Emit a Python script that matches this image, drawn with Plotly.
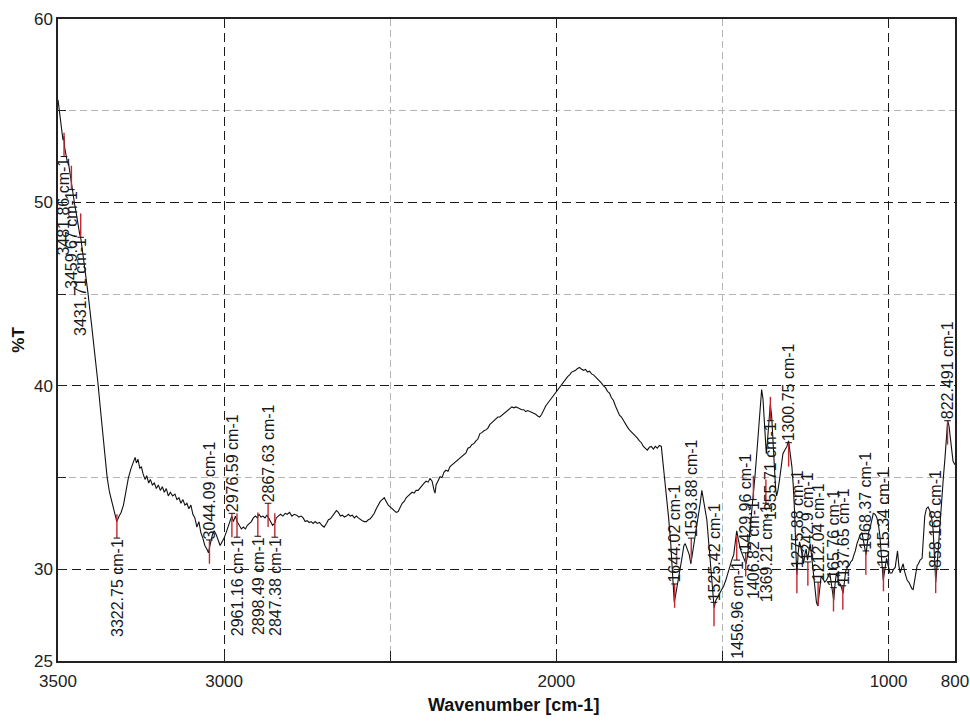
import plotly.graph_objects as go

# FTIR transmission spectrum (wavenumber in cm-1, transmittance in %)
wavenumber = [
    3500, 3497, 3493, 3489, 3485, 3482, 3480, 3476, 3472, 3468, 3465, 3460, 3455, 3450, 3445,
    3440, 3435, 3431, 3425, 3420, 3410, 3400, 3390, 3380, 3370, 3360, 3352, 3345, 3338, 3330,
    3323, 3316, 3310, 3303, 3295, 3288, 3280, 3274, 3268, 3264, 3259, 3254, 3249, 3244, 3238,
    3233, 3227, 3222, 3216, 3210, 3204, 3198, 3192, 3186, 3180, 3174, 3168, 3162, 3155, 3148,
    3142, 3136, 3130, 3124, 3118, 3112, 3106, 3100, 3094, 3088, 3082, 3076, 3070, 3064, 3058,
    3052, 3047, 3044, 3040, 3035, 3030, 3024, 3018, 3012, 3006, 3000, 2994, 2988, 2982, 2977,
    2972, 2966, 2961, 2955, 2948, 2942, 2936, 2930, 2924, 2918, 2912, 2906, 2900, 2895, 2889,
    2883, 2877, 2871, 2866, 2860, 2854, 2848, 2843, 2837, 2830, 2823, 2816, 2810, 2803, 2796,
    2789, 2782, 2775, 2768, 2762, 2756, 2750, 2744, 2738, 2732, 2726, 2720, 2713, 2706, 2699,
    2692, 2686, 2680, 2674, 2668, 2662, 2656, 2650, 2644, 2638, 2632, 2626, 2620, 2614, 2608,
    2602, 2596, 2590, 2584, 2578, 2572, 2566, 2560, 2554, 2548, 2542, 2536, 2530, 2524, 2518,
    2512, 2506, 2500, 2494, 2488, 2482, 2476, 2470, 2464, 2458, 2452, 2446, 2440, 2434, 2428,
    2422, 2416, 2410, 2404, 2398, 2392, 2386, 2380, 2374, 2368, 2365, 2362, 2356, 2350, 2344,
    2338, 2332, 2326, 2320, 2314, 2308, 2302, 2296, 2290, 2284, 2278, 2272, 2266, 2260, 2254,
    2248, 2242, 2236, 2230, 2224, 2218, 2212, 2206, 2200, 2194, 2188, 2182, 2176, 2170, 2164,
    2158, 2152, 2146, 2140, 2134, 2128, 2122, 2116, 2110, 2104, 2098, 2092, 2086, 2080, 2074,
    2068, 2062, 2056, 2050, 2044, 2038, 2032, 2026, 2020, 2014, 2008, 2002, 1996, 1990, 1984,
    1978, 1972, 1966, 1960, 1954, 1948, 1942, 1936, 1930, 1924, 1918, 1912, 1906, 1900, 1894,
    1888, 1882, 1876, 1870, 1864, 1858, 1852, 1846, 1840, 1834, 1828, 1822, 1816, 1810, 1804,
    1798, 1792, 1786, 1780, 1774, 1768, 1762, 1756, 1750, 1744, 1738, 1732, 1726, 1720, 1714,
    1708, 1702, 1696, 1690, 1684, 1680, 1676, 1672, 1667, 1662, 1656, 1650, 1645, 1640, 1634,
    1628, 1622, 1616, 1612, 1606, 1600, 1595, 1590, 1584, 1578, 1572, 1567, 1562, 1557, 1552,
    1547, 1542, 1537, 1532, 1528, 1525, 1520, 1514, 1508, 1502, 1496, 1490, 1484, 1478, 1472,
    1466, 1461, 1457, 1452, 1446, 1440, 1434, 1429, 1424, 1419, 1414, 1410, 1406, 1402, 1398,
    1394, 1390, 1386, 1382, 1378, 1374, 1371, 1368, 1364, 1360, 1356, 1352, 1348, 1344, 1340,
    1337, 1333, 1328, 1323, 1318, 1312, 1306, 1301, 1296, 1291, 1287, 1283, 1279, 1276, 1272,
    1268, 1264, 1260, 1256, 1252, 1248, 1244, 1240, 1236, 1232, 1227, 1222, 1217, 1213, 1208,
    1203, 1198, 1192, 1187, 1182, 1177, 1172, 1168, 1165, 1161, 1157, 1153, 1149, 1145, 1141,
    1137, 1133, 1129, 1124, 1119, 1114, 1109, 1104, 1100, 1095, 1090, 1085, 1080, 1076, 1072,
    1068, 1064, 1060, 1055, 1050, 1046, 1041, 1036, 1031, 1026, 1021, 1016, 1011, 1006, 1001,
    996, 990, 985, 980, 976, 973, 969, 965, 960, 956, 952, 948, 944, 939, 935,
    930, 926, 922, 918, 914, 910, 905, 899, 895, 891, 886, 881, 876, 871, 866,
    862, 858, 854, 850, 845, 840, 835, 830, 826, 822, 818, 814, 810, 806, 803,
    800,
]
transmittance = [
    55.6, 55.1, 54.6, 54.1, 53.4, 53.6, 53.0, 52.6, 52.2, 52.1, 51.7, 51.2, 50.5, 49.9, 49.4,
    48.8, 48.3, 48.0, 47.2, 46.4, 45.1, 43.5, 42.0, 40.2, 38.3, 36.3, 35.0, 34.2, 33.7, 33.1,
    32.6, 32.9, 33.1, 33.5, 34.3, 35.0, 35.5, 35.8, 36.1, 35.8, 36.0, 35.5, 35.6, 35.2, 34.9,
    35.1, 34.7, 34.9, 34.6, 34.7, 34.4, 34.6, 34.3, 34.5, 34.2, 34.4, 34.0, 34.2, 34.0, 34.1,
    33.8, 33.9, 33.6, 33.8, 33.5, 33.6, 33.3, 33.5, 33.0, 32.8, 32.3, 32.6, 32.0, 31.7, 31.3,
    31.1, 30.9, 31.2, 31.6, 31.9, 32.1, 31.9, 31.6, 31.3, 31.5, 31.7, 32.0, 32.3, 32.6, 32.9,
    32.6, 32.9, 32.6, 32.4, 32.2, 32.3, 32.2, 32.4, 32.5, 32.6, 32.8, 32.9, 32.8, 33.0, 32.85,
    32.9, 32.8, 32.95, 32.8, 32.6, 32.4, 32.5, 32.8, 32.9, 33.0, 32.9, 33.05, 33.0, 33.1, 32.9,
    33.0, 32.95, 32.85, 32.9, 32.8, 32.6, 32.65, 32.55, 32.6, 32.5, 32.6, 32.5, 32.55, 32.4, 32.3,
    32.5, 32.7, 32.75, 32.9, 33.0, 33.2, 33.1, 32.9, 32.95, 32.85, 32.9, 33.0, 32.9, 32.95, 32.8,
    32.9, 32.8, 32.7, 32.65, 32.6, 32.6, 32.7, 32.75, 32.9, 33.05, 33.3, 33.5, 33.7, 33.8, 33.9,
    33.7, 33.5, 33.4, 33.3, 33.2, 33.1, 33.15, 33.4, 33.6, 33.7, 33.9, 34.0, 34.1, 34.2, 34.15,
    34.3, 34.3, 34.45, 34.6, 34.7, 34.8, 34.75, 34.95, 34.8, 34.3, 34.15, 34.6, 34.8, 35.05, 35.0,
    35.3, 35.4, 35.35, 35.6, 35.7, 35.75, 35.9, 35.95, 36.1, 36.2, 36.3, 36.35, 36.6, 36.65, 36.8,
    36.85, 37.0, 37.1, 37.4, 37.45, 37.55, 37.6, 37.7, 37.9, 38.0, 38.1, 38.15, 38.3, 38.3, 38.4,
    38.5, 38.6, 38.7, 38.75, 38.85, 38.8, 38.85, 38.8, 38.75, 38.7, 38.7, 38.6, 38.65, 38.6, 38.55,
    38.5, 38.45, 38.35, 38.3, 38.45, 38.7, 38.9, 39.05, 39.2, 39.35, 39.5, 39.6, 39.75, 39.95, 40.1,
    40.2, 40.4, 40.5, 40.6, 40.75, 40.8, 40.85, 40.95, 41.0, 40.9, 40.85, 40.9, 40.75, 40.8, 40.65,
    40.6, 40.5, 40.4, 40.3, 40.15, 40.0, 39.9, 39.7, 39.6, 39.35, 39.2, 38.9, 38.6, 38.4, 38.3,
    38.1, 37.95, 37.75, 37.6, 37.5, 37.35, 37.3, 37.15, 37.0, 36.9, 36.7, 36.6, 36.5, 36.65, 36.7,
    36.55, 36.7, 36.6, 36.75, 36.7, 36.0, 35.2, 34.4, 33.9, 32.8, 31.5, 29.6, 28.2, 28.7, 29.3,
    29.8, 30.6, 31.3, 31.4, 31.1, 30.8, 30.3, 30.9, 31.5, 32.1, 32.8, 33.6, 34.3, 33.8, 33.1,
    32.7, 31.6, 30.4, 29.1, 28.3, 27.9, 28.3, 28.5, 28.7, 28.9, 29.1, 29.4, 29.8, 30.1, 30.5,
    30.8, 31.4, 32.1, 31.6, 31.1, 30.8, 30.5, 30.3, 30.8, 31.7, 32.6, 33.4, 34.2, 35.1, 36.0,
    37.0, 38.1, 39.1, 39.8, 39.3, 38.1, 37.0, 36.3, 37.1, 38.1, 39.0, 38.4, 37.0, 35.6, 34.4,
    34.0, 34.3, 34.9, 35.8, 36.3, 36.5, 36.7, 37.0, 36.4, 35.6, 34.6, 33.2, 31.0, 29.7, 30.9,
    31.5, 31.2, 30.8, 30.3, 30.8, 31.1, 30.5, 30.9, 31.4, 30.8, 30.0, 28.9, 28.2, 28.0, 28.8,
    29.6, 29.5, 29.3, 29.4, 29.6, 29.8, 29.2, 28.5, 28.3, 29.2, 29.8, 29.6, 29.1, 29.2, 28.9,
    28.7, 29.3, 29.9, 30.1, 30.2, 30.4, 30.5, 30.8, 31.0, 31.4, 31.7, 31.9, 32.0, 31.6, 31.0,
    30.8, 31.4, 32.0, 32.3, 32.7, 33.05, 33.0, 32.85, 32.5, 31.8, 30.6, 29.4, 30.0, 30.6, 30.2,
    29.8, 29.8, 30.0, 30.1, 30.7, 31.0, 30.2, 29.8, 30.1, 30.3, 29.9, 29.6, 29.4, 29.3, 29.1,
    28.95, 28.9, 29.3, 29.8, 30.2, 30.3, 30.5, 30.6, 31.6, 32.9, 33.3, 33.4, 33.2, 32.9, 32.2,
    30.6, 29.3, 30.2, 31.3, 32.6, 33.7, 35.0, 36.1, 37.2, 38.1, 37.8, 37.1, 36.4, 35.9, 35.8,
    35.7,
]

# Picked peaks: position, printed label, side of the label and where the label starts
peak_wn = [3481.86, 3459.67, 3431.71, 3322.75, 3044.09, 2976.59, 2961.16, 2898.49, 2867.63,
           2847.38, 1644.02, 1593.88, 1525.42, 1456.96, 1429.96, 1406.82, 1369.21, 1355.71,
           1300.75, 1275.88, 1242.9, 1212.04, 1165.76, 1137.65, 1068.37, 1015.34, 858.168,
           822.491]
peak_label = ["3481.86 cm-1", "3459.67 cm-1", "3431.71 cm-1", "3322.75 cm-1", "3044.09 cm-1",
              "2976.59 cm-1", "2961.16 cm-1", "2898.49 cm-1", "2867.63 cm-1", "2847.38 cm-1",
              "1644.02 cm-1", "1593.88 cm-1", "1525.42 cm-1", "1456.96 cm-1", "1429.96 cm-1",
              "1406.82 cm-1", "1369.21 cm-1", "1355.71 cm-1", "1300.75 cm-1", "1275.88 cm-1",
              "1242.9 cm-1", "1212.04 cm-1", "1165.76 cm-1", "1137.65 cm-1", "1068.37 cm-1",
              "1015.34 cm-1", "858.168 cm-1", "822.491 cm-1"]
label_side = ["down", "down", "down", "down", "up", "up", "down", "down", "up", "down",
              "up", "up", "up", "down", "up", "down", "down", "down",
              "up", "up", "up", "up", "up", "up", "up", "up", "up", "up"]
label_start = [52.5, 50.7, 48.1, 31.7, 31.6, 33.05, 31.75, 31.8, 33.6, 31.75,
               29.2, 31.7, 28.2, 30.5, 30.9, 33.8, 33.6, 38.1,
               36.9, 30.0, 30.4, 29.3, 29.0, 29.1, 31.0, 30.1, 30.0, 38.1]

marker_len = 1.3      # length of the red peak marker, in %T
tick_half = 10        # half width of the black tick at the label start, in cm-1

red_x, red_y, tick_x, tick_y = [], [], [], []
for w, side, t0 in zip(peak_wn, label_side, label_start):
    t1 = t0 - marker_len if side == "up" else t0 + marker_len
    red_x += [w, w, None]
    red_y += [t0, t1, None]
    tick_x += [w - tick_half, w + tick_half, None]
    tick_y += [t0, t0, None]

fig = go.Figure()
fig.add_trace(go.Scatter(x=wavenumber, y=transmittance, mode="lines",
                         line=dict(color="#111111", width=1.1), hoverinfo="skip"))
fig.add_trace(go.Scatter(x=red_x, y=red_y, mode="lines",
                         line=dict(color="#c4262e", width=1.4), hoverinfo="skip"))
fig.add_trace(go.Scatter(x=tick_x, y=tick_y, mode="lines",
                         line=dict(color="#111111", width=1), hoverinfo="skip"))

annotations = []
for w, txt, side, t0 in zip(peak_wn, peak_label, label_side, label_start):
    annotations.append(dict(
        x=w, y=t0, xref="x", yref="y", text=txt, showarrow=False, textangle=-90,
        xanchor="center", yanchor="bottom" if side == "up" else "top",
        borderpad=0, font=dict(family="Liberation Sans, Arial", size=16, color="#1a1a1a"),
    ))

annotations.append(dict(
    x=0.508, y=-0.069, xref="paper", yref="paper", text="<b>Wavenumber [cm-1]</b>",
    showarrow=False, xanchor="center", yanchor="middle",
    font=dict(family="Liberation Sans, Arial", size=18, color="#111111"),
))
annotations.append(dict(
    x=-0.045, y=0.5, xref="paper", yref="paper", text="<b>%T</b>", textangle=-90,
    showarrow=False, xanchor="center", yanchor="middle",
    font=dict(family="Liberation Sans, Arial", size=17, color="#111111"),
))

x_ticks = [3500, 3000, 2000, 1000, 800]
x_minor = [2500, 1500]
y_ticks = [25, 30, 40, 50, 60]
y_minor = [35, 45, 55]

axis_font = dict(family="Liberation Sans, Arial", size=17, color="#222222")

fig.update_layout(
    width=970, height=722,
    margin=dict(l=58, r=15, t=19, b=61),
    paper_bgcolor="white", plot_bgcolor="white",
    showlegend=False,
    annotations=annotations,
    xaxis=dict(
        range=[3500, 800], automargin=False, tickmode="array", tickvals=x_ticks,
        ticktext=[str(v) for v in x_ticks], tickfont=axis_font,
        ticks="inside", ticklen=10, tickcolor="#222222", ticklabelstandoff=4,
        showgrid=True, gridcolor="#1a1a1a", griddash="9px,5px", gridwidth=1.2,
        zeroline=False, showline=True, linecolor="#222222", linewidth=1.5, mirror=True,
        minor=dict(tickmode="array", tickvals=x_minor, showgrid=True, gridcolor="#b5b5b5",
                   griddash="7px,4px", gridwidth=1, ticks="inside", ticklen=10,
                   tickcolor="#222222"),
    ),
    yaxis=dict(
        range=[25, 60], automargin=False, tickmode="array", tickvals=y_ticks,
        ticktext=[str(v) for v in y_ticks], tickfont=axis_font,
        ticks="inside", ticklen=8, tickcolor="#222222",
        showgrid=True, gridcolor="#1a1a1a", griddash="9px,5px", gridwidth=1.2,
        zeroline=False, showline=True, linecolor="#222222", linewidth=1.5, mirror=True,
        minor=dict(tickmode="array", tickvals=y_minor, showgrid=True, gridcolor="#b5b5b5",
                   griddash="7px,4px", gridwidth=1, ticks="inside", ticklen=8,
                   tickcolor="#222222"),
    ),
)

fig.write_html("out.html")
